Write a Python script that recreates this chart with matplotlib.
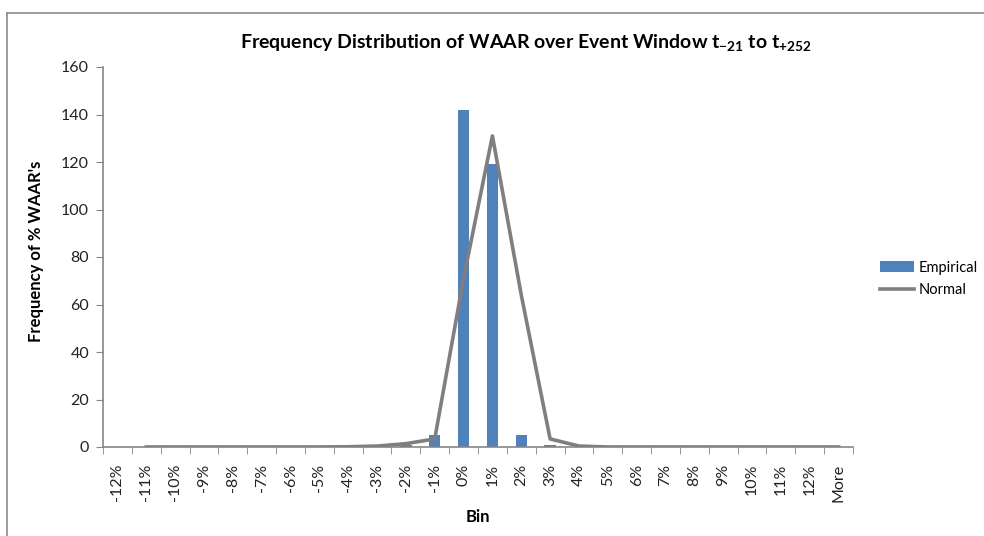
import matplotlib.pyplot as plt
import numpy as np
from matplotlib.lines import Line2D

plt.rcParams['font.family'] = ['Lato', 'DejaVu Sans']
plt.rcParams['mathtext.fontset'] = 'custom'
plt.rcParams['mathtext.rm'] = 'Lato'
plt.rcParams['mathtext.bf'] = 'Lato:bold'

bins = ['-12%', '-11%', '-10%', '-9%', '-8%', '-7%', '-6%', '-5%', '-4%', '-3%', '-2%', '-1%',
        '0%', '1%', '2%', '3%', '4%', '5%', '6%', '7%', '8%', '9%', '10%', '11%', '12%', 'More']
empirical = [0, 0, 0, 0, 0, 0, 0, 0, 0, 1, 1, 5, 142, 119, 5, 1, 0, 0, 0, 0, 0, 0, 0, 0, 0, 0]
# first bin has no normal value
normal = [np.nan, 0, 0, 0, 0, 0, 0, 0, 0.1, 0.4, 1.4, 3.4, 71, 131, 64, 3.4, 0.4, 0, 0, 0, 0, 0, 0, 0, 0, 0]

fig = plt.figure(figsize=(9.84, 5.36), dpi=100)
ax = fig.add_axes([103 / 984, 89 / 536, 750 / 984, 380 / 536])

x = np.arange(len(bins))
ax.bar(x, empirical, width=0.39, color='#4F81BD', label='Empirical', zorder=2)
ax.plot(x, normal, color='#7F7F7F', lw=2.6, label='Normal', zorder=3)

ax.set_xlim(-0.5, len(bins) - 0.5)
ax.set_ylim(0, 160)
ax.set_yticks(range(0, 161, 20))
ax.set_xticks(x)
ax.set_xticklabels(bins, rotation=90, fontsize=11.5, color='#222222')
ax.set_xticks(np.arange(-0.5, len(bins)), minor=True)
ax.tick_params(axis='x', which='major', length=0, pad=12)
ax.tick_params(axis='x', which='minor', length=5, color='#868686', direction='out')
ax.tick_params(axis='y', length=5, color='#868686', labelsize=11.5, labelcolor='#222222', pad=5)

for s in ['top', 'right']:
    ax.spines[s].set_visible(False)
for s in ['left', 'bottom']:
    ax.spines[s].set_color('#868686')
    ax.spines[s].set_linewidth(1.2)

ax.set_xlabel('Bin', fontsize=12, fontweight='bold', labelpad=5)
ax.set_ylabel("Frequency of % WAAR's", fontsize=12, fontweight='bold')
ax.yaxis.set_label_coords(-0.078, 0.516)

fig.text(526 / 984, 1 - 43 / 536,
         r'Frequency Distribution of WAAR over Event Window t$_{\mathbf{-21}}$ to t$_{\mathbf{+252}}$',
         ha='center', va='center', fontsize=14, fontweight='bold')

handles, labels = ax.get_legend_handles_labels()
order = [labels.index('Empirical'), labels.index('Normal')]
fig.legend([handles[i] for i in order], [labels[i] for i in order],
           loc='center left', bbox_to_anchor=(876 / 984, 1 - 279 / 536), frameon=False,
           fontsize=10.5, handlelength=2.3, labelspacing=0.6, handletextpad=0.35,
           borderpad=0.3, borderaxespad=0)

# chart area border (only left and top edges fall inside the picture)
fig.add_artist(Line2D([6.5 / 984, 6.5 / 984], [0, 1 - 12.5 / 536], transform=fig.transFigure,
                      color='#8C8C8C', lw=1.2))
fig.add_artist(Line2D([6.5 / 984, 1], [1 - 12.5 / 536, 1 - 12.5 / 536], transform=fig.transFigure,
                      color='#8C8C8C', lw=1.2))

fig.savefig('out.png', dpi=100)
